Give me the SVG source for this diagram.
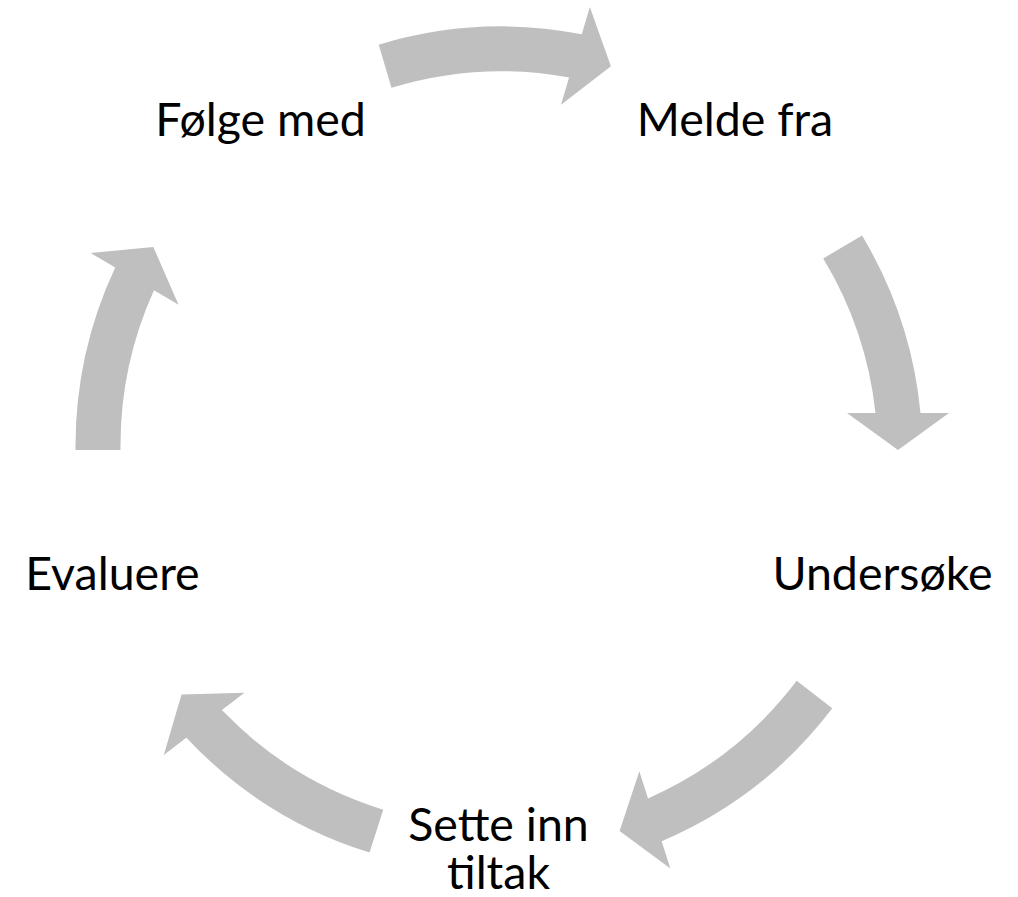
<svg xmlns="http://www.w3.org/2000/svg" width="1018" height="897" viewBox="0 0 1018 897">
<style>
.arrow{fill:#BFBFBF;stroke:none}
.lbl{font-family:Lato,"Liberation Sans",sans-serif;font-size:46.5px;fill:#000000;text-anchor:middle}
</style>
<rect width="1018" height="897" fill="#FFFFFF"/>
<g id="connectors">
<path id="arrow-1" class="arrow" d="M378.73,44.70 A422.5,422.5 0 0 1 581.78,34.25 L589.83,6.91 L610.92,66.28 L561.03,104.75 L569.08,77.41 A377.5,377.5 0 0 0 391.43,87.86 Z"/>
<path id="arrow-2" class="arrow" d="M862.03,235.58 A422.5,422.5 0 0 1 920.5,413 L949,413 L898,450 L847,413 L875.5,413 A377.5,377.5 0 0 0 823.25,258.42 Z"/>
<path id="arrow-3" class="arrow" d="M832.28,708.36 A422.5,422.5 0 0 1 661.69,841.27 L670.35,868.42 L619.6,831.08 L639.35,771.24 L648.01,798.39 A377.5,377.5 0 0 0 796.68,680.84 Z"/>
<path id="arrow-4" class="arrow" d="M369.56,852.52 A422.5,422.5 0 0 1 186.35,737.63 L163.8,755.06 L181.52,694.6 L244.5,692.68 L221.95,710.11 A377.5,377.5 0 0 0 383.24,809.64 Z"/>
<path id="arrow-5" class="arrow" d="M75.5,450 A422.5,422.5 0 0 1 115.19,267.46 L90.64,253 L153.36,247 L178.52,304.76 L153.97,290.30 A377.5,377.5 0 0 0 120.5,450 Z"/>
</g>
<g id="node-folge-med"><text class="lbl" x="260.5" y="136">Følge med</text></g>
<g id="node-melde-fra"><text class="lbl" x="735" y="136">Melde fra</text></g>
<g id="node-undersoke"><text class="lbl" x="882.5" y="590">Undersøke</text></g>
<g id="node-sette-inn-tiltak"><text class="lbl" x="498.5" y="841"><tspan x="498.5" y="841">Sette inn</tspan><tspan x="498.5" y="889">tiltak</tspan></text></g>
<g id="node-evaluere"><text class="lbl" x="112.5" y="590">Evaluere</text></g>
</svg>
